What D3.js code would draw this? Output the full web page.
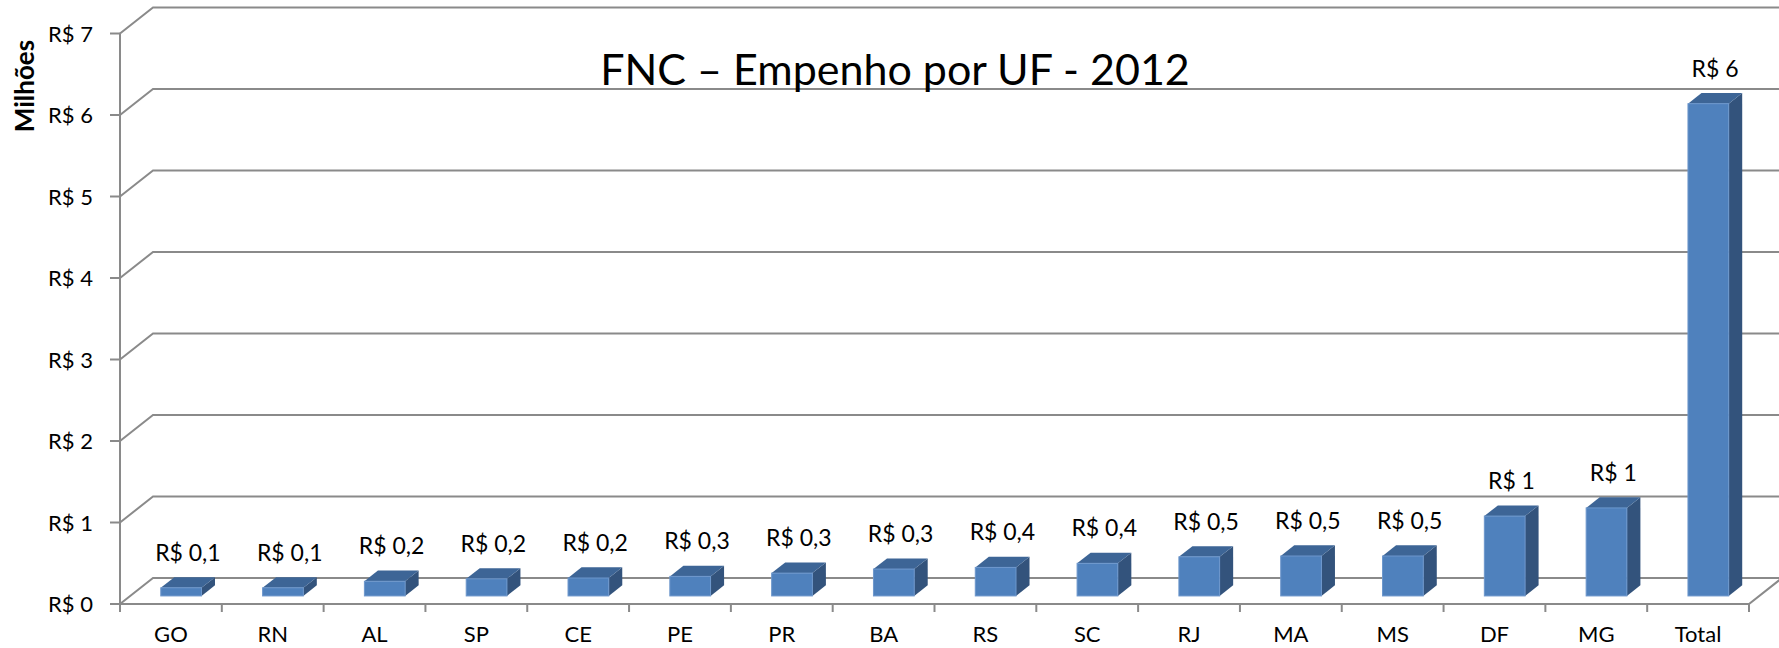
<!DOCTYPE html>
<html>
<head>
<meta charset="utf-8">
<script src="https://cdn.jsdelivr.net/npm/d3@7"></script>
<style>
  html, body { margin: 0; padding: 0; background: #ffffff; }
  svg { display: block; }
  text { font-family: Lato, "Open Sans", sans-serif; fill: #000; }
</style>
</head>
<body>
<svg id="chart" width="1779" height="648"></svg>
<script>
// ---- data ----
const categories = ["GO", "RN", "AL", "SP", "CE", "PE", "PR", "BA", "RS", "SC", "RJ", "MA", "MS", "DF", "MG", "Total"];
const values = [0.10, 0.10, 0.18, 0.21, 0.22, 0.24, 0.28, 0.33, 0.35, 0.40, 0.48, 0.49, 0.49, 0.98, 1.08, 6.04];
const dataLabels = ["R$ 0,1", "R$ 0,1", "R$ 0,2", "R$ 0,2", "R$ 0,2", "R$ 0,3", "R$ 0,3", "R$ 0,3", "R$ 0,4", "R$ 0,4", "R$ 0,5", "R$ 0,5", "R$ 0,5", "R$ 1", "R$ 1", "R$ 6"];
const yTickValues = [0, 1, 2, 3, 4, 5, 6, 7];
const yTickLabels = ["R$ 0", "R$ 1", "R$ 2", "R$ 3", "R$ 4", "R$ 5", "R$ 6", "R$ 7"];
const titleText = "FNC – Empenho por UF - 2012";
const yAxisTitle = "Milhões";

// ---- layout ----
const W = 1779, H = 648;
const left = 120, right = 1749;
const floorY = 604, topY = 33.5;
const depthX = 33, depthY = -26;      // full depth of the 3D box
const barFront = 0.31, barDepth = 0.41; // fractions of depth
const gridColor = "#8a8a8a";

const svg = d3.select("#chart");

const x = d3.scaleBand().domain(categories).range([left, right]).paddingInner(0.6).paddingOuter(0.3);
const xStep = d3.scaleBand().domain(categories).range([left, right]).padding(0);
const y = d3.scaleLinear().domain([0, 7]).range([floorY, topY]);

// ---- gridlines (side wall diagonal + back wall) ----
const grid = svg.append("g");
yTickValues.forEach(v => {
  const yy = y(v);
  grid.append("path")
    .attr("d", `M${left},${yy} L${left + depthX},${yy + depthY} L${W + 5},${yy + depthY}`)
    .attr("fill", "none").attr("stroke", gridColor).attr("stroke-width", 2);
});

// front vertical axis
svg.append("line")
  .attr("x1", left).attr("x2", left).attr("y1", y(7)).attr("y2", floorY + 8)
  .attr("stroke", gridColor).attr("stroke-width", 2);

// y ticks + labels
yTickValues.forEach((v, i) => {
  svg.append("line")
    .attr("x1", left - 10).attr("x2", left).attr("y1", y(v)).attr("y2", y(v))
    .attr("stroke", gridColor).attr("stroke-width", 2);
  svg.append("text")
    .attr("x", 93).attr("y", y(v) + 8)
    .attr("text-anchor", "end").attr("font-size", 22)
    .text(yTickLabels[i]);
});

// floor front edge + right depth edge
svg.append("path")
  .attr("d", `M${left},${floorY} L${right},${floorY} L${right + depthX},${floorY + depthY}`)
  .attr("fill", "none").attr("stroke", gridColor).attr("stroke-width", 2);

// x ticks at band boundaries
categories.forEach(c => {
  svg.append("line")
    .attr("x1", xStep(c)).attr("x2", xStep(c)).attr("y1", floorY).attr("y2", floorY + 8)
    .attr("stroke", gridColor).attr("stroke-width", 2);
});
svg.append("line")
  .attr("x1", right).attr("x2", right).attr("y1", floorY).attr("y2", floorY + 8)
  .attr("stroke", gridColor).attr("stroke-width", 2);

// ---- bars ----
const ox = barFront * depthX, oy = barFront * depthY;
const dx = barDepth * depthX, dy = barDepth * depthY;
const bw = x.bandwidth();
const bars = svg.append("g");
categories.forEach((c, i) => {
  const bx = x(c) + ox;
  const yt = y(values[i]) + oy;
  const yb = y(0) + oy;
  // side face
  bars.append("path")
    .attr("d", `M${bx + bw},${yt} L${bx + bw + dx},${yt + dy} L${bx + bw + dx},${yb + dy} L${bx + bw},${yb} Z`)
    .attr("fill", "#33537c");
  // top face
  bars.append("path")
    .attr("d", `M${bx},${yt} L${bx + bw},${yt} L${bx + bw + dx},${yt + dy} L${bx + dx},${yt + dy} Z`)
    .attr("fill", "#3d6596");
  // front face
  bars.append("rect")
    .attr("x", bx).attr("y", yt).attr("width", bw).attr("height", yb - yt)
    .attr("fill", "#4f81bd").attr("stroke", "#6d97cc").attr("stroke-width", 1);
  // data label
  svg.append("text")
    .attr("x", bx + bw / 2 + dx / 2).attr("y", yt - 27)
    .attr("text-anchor", "middle").attr("font-size", 23)
    .text(dataLabels[i]);
});

// x category labels
categories.forEach(c => {
  svg.append("text")
    .attr("x", xStep(c) + xStep.bandwidth() / 2).attr("y", 642)
    .attr("text-anchor", "middle").attr("font-size", 22)
    .text(c);
});

// title
svg.append("text")
  .attr("x", 895).attr("y", 85)
  .attr("text-anchor", "middle").attr("font-size", 43)
  .text(titleText);

// y axis title
svg.append("text")
  .attr("transform", "translate(34,86) rotate(-90)")
  .attr("text-anchor", "middle").attr("font-size", 26).attr("font-weight", "bold")
  .text(yAxisTitle);
</script>
</body>
</html>
